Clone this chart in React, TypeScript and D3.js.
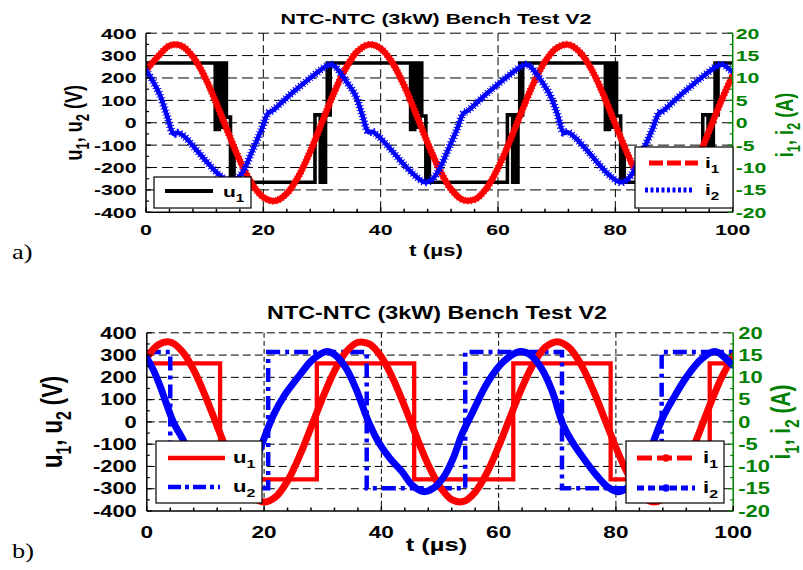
import React from 'react';
import * as d3 from 'd3';

// ---------- shared axis data ----------
const timeTicks = [0, 20, 40, 60, 80, 100];
const voltTicks = [-400, -300, -200, -100, 0, 100, 200, 300, 400];
const ampTicks = [-20, -15, -10, -5, 0, 5, 10, 15, 20];
const timeMinor = [0, 4, 8, 12, 16, 20, 24, 28, 32, 36, 40, 44, 48, 52, 56, 60, 64, 68, 72, 76, 80, 84, 88, 92, 96, 100];
const voltMinor = [-400, -350, -300, -250, -200, -150, -100, -50, 0, 50, 100, 150, 200, 250, 300, 350, 400];
const ampMinor = [-20, -17.5, -15, -12.5, -10, -7.5, -5, -2.5, 0, 2.5, 5, 7.5, 10, 12.5, 15, 17.5, 20];
const titleText = 'NTC-NTC (3kW) Bench Test V2';
const xLabelText = 't (\u00b5s)';

// ---------- panel a ----------
const u1aSwitchT = [0, 11.8, 12.0, 12.2, 12.5, 13.1, 13.4, 13.7, 14.4, 14.8, 15.0,
  28.8, 29.7, 29.95, 30.25, 30.6, 30.9, 31.15, 31.4,
  45.1, 45.3, 45.5, 45.8, 46.4, 46.7, 47.0, 47.7, 48.1, 48.3,
  61.6, 62.5, 62.75, 63.05, 63.4, 63.7, 63.95, 64.2,
  78.3, 78.5, 78.7, 79.0, 79.6, 79.9, 80.2, 80.9, 81.3, 81.5,
  94.9, 95.8, 96.05, 96.35, 96.7, 97.0, 97.25, 97.5];
const u1aSwitchV = [267, -30, 267, -30, 267, -20, 267, 25, -266, -120, -266,
  35, -266, 35, -266, 35, 267, 35, 267,
  -30, 267, -30, 267, -20, 267, 30, -266, -120, -266,
  35, -266, 35, -266, 35, 267, 35, 267,
  -30, 267, -30, 267, -20, 267, 30, -266, -120, -266,
  35, -266, 35, -266, 35, 267, 35, 267];

const i1aT = [0, 2, 4, 6, 8, 10, 12, 14, 16, 18, 20, 22, 24, 26, 28, 30, 32, 34, 36, 38, 40, 42, 44, 46, 48, 50,
  52, 54, 56, 58, 60, 62, 64, 66, 68, 70, 72, 74, 76, 78, 80, 82, 84, 86, 88, 90, 92, 94, 96, 98, 100];
const i1aA = [11.7, 14.75, 17.2, 17.2, 14.75, 10.3, 4.3, -2.2, -8.45, -13.5, -16.65, -17.45, -15.8, -11.95, -6.4, 0.1,
  6.55, 12.05, 15.9, 17.45, 16.6, 13.4, 8.3, 2.05, -4.5, -10.4, -14.85, -17.2, -17.15, -14.7, -10.1, -4.15, 2.4,
  8.65, 13.65, 16.7, 17.45, 15.7, 11.75, 6.15, -0.35, -6.75, -12.2, -16, -17.5, -16.55, -13.25, -8.1, -1.75, 4.75, 10.6];

const i2aT = [0, 1.2, 2.4, 3.6, 4.7, 5.4, 6.4, 8.5, 10.4, 12.6, 14.3, 15.5, 16.6, 18.2, 19.7, 20.8, 21.6, 23.3, 25.1, 28,
  30.8, 31.6, 32.3, 34, 35.7, 36.8, 37.9, 38.6, 39.6, 41.7, 43.6, 45.8, 47.6, 48.8, 50, 51.5, 53, 54.1, 54.9, 56.6,
  58.4, 61.3, 64.1, 64.9, 65.6, 67.3, 68.9, 70.1, 71.2, 71.9, 72.9, 75, 76.9, 79, 80.9, 82.1, 83.3, 84.8, 86.3, 87.4,
  88.2, 89.9, 91.7, 94.6, 97.4, 98.2, 100];
const i2aA = [11.7, 9.25, 6.1, 1.5, -2.5, -2.25, -2.9, -5.9, -8.8, -11.75, -13.1, -12.5, -10.75, -6, -1.5, 2.1, 2.75, 4.75, 6.85, 10,
  12.7, 13, 12.45, 9.5, 6.1, 2, -2.1, -2, -3, -5.9, -8.8, -11.75, -13.3, -12.6, -10.4, -6, -1.5, 2.1, 2.75, 4.75,
  6.85, 10, 12.7, 13, 12.45, 9.5, 6.1, 2, -2.25, -2.1, -3, -5.9, -8.8, -11.75, -13.3, -12.6, -10.4, -6, -1.5, 2.1,
  2.75, 4.75, 6.85, 10, 12.7, 13, 11.3];

// ---------- panel b ----------
const u1bSwitchT = [0, 12.5, 29.0, 45.6, 62.5, 79.1, 96.0];
const u1bSwitchV = [263, -258, 263, -258, 263, -258, 263];
const u2bSwitchT = [0, 4.0, 20.7, 37.5, 54.3, 70.8, 87.8];
const u2bSwitchV = [314, -298, 314, -298, 314, -298, 314];

const i1bT = [0, 2, 4, 6, 8, 10, 12, 14, 16, 18, 20, 22, 24, 26, 28, 30, 32, 34, 36, 38, 40, 42, 44, 46, 48, 50,
  52, 54, 56, 58, 60, 62, 64, 66, 68, 70, 72, 74, 76, 78, 80, 82, 84, 86, 88, 90, 92, 94, 96, 98, 100];
const i1bA = [14.4, 17.35, 17.9, 15.9, 11.65, 5.75, -0.95, -7.5, -13, -16.65, -18, -16.8, -13.25, -7.8, -1.25, 5.45,
  11.4, 15.75, 17.85, 17.45, 14.6, 9.65, 3.4, -3.35, -9.65, -14.55, -17.45, -17.85, -15.75, -11.45, -5.5, 1.2, 7.75,
  13.2, 16.8, 18, 16.7, 13, 7.5, 0.95, -5.75, -11.6, -15.9, -17.9, -17.35, -14.4, -9.4, -3.1, 3.7, 9.9, 14.75];

const i2bT = [0, 1, 2.2, 3.3, 4.5, 6.2, 8, 10, 12, 14, 15.5, 17, 18.5, 19.8, 21.6, 23.5, 26.1, 28.3, 30.7, 32.1,
  34, 35.8, 37.8, 39.5, 41.5, 43.5, 45.3, 47.2, 49, 50.8, 52.3, 53.7, 55.5, 58.2, 61, 63.7, 65.4, 67.3, 69.1, 71.0,
  72.8, 74.8, 76.7, 78.5, 80.2, 82, 83.7, 85.1, 86.4, 88, 89.8, 92, 94.5, 96.9, 99.8];
const i2bA = [14.3, 12, 8.3, 4.25, 0.05, -4.05, -8.5, -12, -14.4, -15.5, -15, -12.5, -9, -4.4, 1.55, 6, 10.55, 14, 15.8, 15.05,
  12, 7, 0.05, -4.5, -8.25, -11.15, -14.25, -15.65, -14.75, -12, -8, -2.9, 2, 9.05, 13.75, 15.8, 15.05, 12, 7, -0.65,
  -5, -8.75, -12, -14.5, -15.65, -14.75, -12, -8.5, -4.4, 1, 5.3, 10, 14, 15.8, 12.8];

// ---------- rendering ----------
const BLACK = '#000000';
const RED = '#ff0000';
const BLUE = '#0000ff';
const GREEN = '#008000';
const SANS = "'Liberation Sans', Arial, Helvetica, sans-serif";
const SERIF = "'Liberation Serif', 'Times New Roman', serif";

type Part = [string, boolean];

function parts(fs: number, ps: Part[]) {
  let shifted = false;
  const sh = fs * 0.3;
  return ps.map(([s, sub], i) => {
    let dy: number | undefined;
    if (sub && !shifted) { dy = sh; shifted = true; }
    else if (!sub && shifted) { dy = -sh; shifted = false; }
    return (
      <tspan key={i} fontSize={sub ? fs * 0.72 : fs} dy={dy}>{s}</tspan>
    );
  });
}

interface SeriesSpec {
  t: number[];
  v: number[];
  axis: 'L' | 'R';
  step: boolean;
  color: string;
  width: number;
  dash?: string;
  fuzz?: number;
}

interface LegendEntry {
  color: string;
  width: number;
  dash?: string;
  x0: number; x1: number; y: number;
  tx: number; ty: number;
  label: Part[];
  dot?: boolean;
}

interface LegendSpec {
  x0: number; y0: number; x1: number; y1: number;
  fs: number; sx: number;
  entries: LegendEntry[];
}

interface PanelProps {
  id: string;
  geo: { left: number; right: number; top: number; bottom: number };
  titleX: number; titleY: number; titleFs: number; titleLen: number;
  tickFs: number; tickSx: number; leftGap: number; rightGap: number;
  xTickY: number; xTickFs: number;
  xLabelX: number; xLabelY: number; xLabelFs: number; xLabelSx: number;
  yLabelX: number; yLabelFs: number; yLabelSx: number;
  rLabelX: number; rLabelY: number; rLabelFs: number;
  hDash: string; vDash: string;
  tag: string; tagY: number;
  series: SeriesSpec[];
  legends: LegendSpec[];
}

function Panel(p: PanelProps) {
  const { geo } = p;
  const x = d3.scaleLinear().domain([0, 100]).range([geo.left, geo.right]);
  const yL = d3.scaleLinear().domain([-400, 400]).range([geo.bottom, geo.top]);
  const yR = d3.scaleLinear().domain([-20, 20]).range([geo.bottom, geo.top]);
  const clipId = `clip-${p.id}`;

  const paths = p.series.map((s, k) => {
    const ys = s.axis === 'L' ? yL : yR;
    const pts: [number, number][] = s.t.map((tt, i) => [tt, s.v[i]]);
    if (s.step) pts.push([100, s.v[s.v.length - 1]]);
    const line = d3.line<[number, number]>()
      .x(d => x(d[0]))
      .y(d => ys(d[1]))
      .curve(s.step ? d3.curveStepAfter : d3.curveCatmullRom.alpha(0.5));
    const d = line(pts) || '';
    return (
      <g key={k}>
        {s.fuzz ? (
          <path d={d} fill="none" stroke={s.color} strokeWidth={s.width + s.fuzz}
            strokeDasharray="1,2.2" strokeLinejoin="round" />
        ) : null}
        <path d={d} fill="none" stroke={s.color} strokeWidth={s.width}
          strokeDasharray={s.dash} strokeLinejoin={s.step ? 'miter' : 'round'} strokeLinecap={s.step ? 'butt' : 'round'} />
      </g>
    );
  });

  const tickTr = (tx: number, ty: number) => `translate(${tx},${ty}) scale(${p.tickSx},1)`;

  return (
    <g>
      <defs>
        <clipPath id={clipId}>
          <rect x={geo.left} y={geo.top - 1} width={geo.right - geo.left} height={geo.bottom - geo.top + 2} />
        </clipPath>
      </defs>
      {/* grid */}
      {voltTicks.filter(v => v !== -400).map(v => (
        <line key={'h' + v} x1={geo.left} x2={geo.right} y1={yL(v)} y2={yL(v)} stroke="#000" strokeWidth={1} strokeDasharray={p.hDash} />
      ))}
      {timeTicks.filter(t => t !== 0 && t !== 100).map(t => (
        <line key={'v' + t} x1={x(t)} x2={x(t)} y1={geo.top} y2={geo.bottom} stroke="#000" strokeWidth={1} strokeDasharray={p.vDash} />
      ))}
      {/* traces */}
      <g clipPath={`url(#${clipId})`}>{paths}</g>
      {/* axes */}
      <line x1={geo.left} x2={geo.left} y1={geo.top} y2={geo.bottom} stroke="#000" strokeWidth={1.5} />
      <line x1={geo.left} x2={geo.right} y1={geo.bottom} y2={geo.bottom} stroke="#000" strokeWidth={1.5} />
      <line x1={geo.right} x2={geo.right} y1={geo.top} y2={geo.bottom} stroke={GREEN} strokeWidth={1.5} />
      {voltMinor.map(v => (
        <line key={'lt' + v} x1={geo.left} x2={geo.left + (v % 100 === 0 ? 5 : 3)} y1={yL(v)} y2={yL(v)} stroke="#000" strokeWidth={1.2} />
      ))}
      {ampMinor.map(a => (
        <line key={'rt' + a} x1={geo.right} x2={geo.right - (a % 5 === 0 ? 5 : 3)} y1={yR(a)} y2={yR(a)} stroke={GREEN} strokeWidth={1.2} />
      ))}
      {timeMinor.map(t => (
        <line key={'bt' + t} x1={x(t)} x2={x(t)} y1={geo.bottom} y2={geo.bottom - (t % 20 === 0 ? 5 : 3.5)} stroke="#000" strokeWidth={1.5} />
      ))}
      {/* legends */}
      {p.legends.map((lg, li) => (
        <g key={'lg' + li}>
          <rect x={lg.x0} y={lg.y0} width={lg.x1 - lg.x0} height={lg.y1 - lg.y0} fill="#fff" stroke="#000" strokeWidth={1.2} />
          {lg.entries.map((e, ei) => (
            <g key={ei}>
              <line x1={e.x0} x2={e.x1} y1={e.y} y2={e.y} stroke={e.color} strokeWidth={e.width} strokeDasharray={e.dash} />
              {e.dot ? <circle cx={(e.x0 + e.x1) / 2} cy={e.y} r={e.width * 0.75} fill={e.color} /> : null}
              <text transform={`translate(${e.tx},${e.ty}) scale(${lg.sx},1)`} fontSize={lg.fs} fontWeight="bold" fontFamily={SANS} fill="#000">
                {parts(lg.fs, e.label)}
              </text>
            </g>
          ))}
        </g>
      ))}
      {/* title */}
      <text x={p.titleX} y={p.titleY} fontSize={p.titleFs} fontWeight="bold" fontFamily={SANS} textAnchor="middle"
        textLength={p.titleLen} lengthAdjust="spacingAndGlyphs">{titleText}</text>
      {/* tick labels */}
      {voltTicks.map(v => (
        <text key={'ll' + v} transform={tickTr(geo.left - p.leftGap, yL(v) + p.tickFs * 0.36)} fontSize={p.tickFs}
          fontWeight="bold" fontFamily={SANS} textAnchor="end">{String(v)}</text>
      ))}
      {ampTicks.map(a => (
        <text key={'rl' + a} transform={tickTr(geo.right + p.rightGap, yR(a) + p.tickFs * 0.36)} fontSize={p.tickFs}
          fontWeight="bold" fontFamily={SANS} textAnchor="start" fill={GREEN}>{String(a)}</text>
      ))}
      {timeTicks.map(t => (
        <text key={'bl' + t} transform={`translate(${x(t)},${p.xTickY}) scale(${p.tickSx},1)`} fontSize={p.xTickFs}
          fontWeight="bold" fontFamily={SANS} textAnchor="middle">{String(t)}</text>
      ))}
      {/* axis labels */}
      <text transform={`translate(${p.xLabelX},${p.xLabelY}) scale(${p.xLabelSx},1)`} fontSize={p.xLabelFs}
        fontWeight="bold" fontFamily={SANS} textAnchor="middle">{xLabelText}</text>
      <text transform={`translate(${p.yLabelX},${(geo.top + geo.bottom) / 2}) rotate(-90) scale(1,${p.yLabelSx})`}
        fontSize={p.yLabelFs} fontWeight="bold" fontFamily={SANS} textAnchor="middle">
        {parts(p.yLabelFs, [['u', false], ['1', true], [', u', false], ['2', true], [' (V)', false]])}
      </text>
      <text transform={`translate(${p.rLabelX},${p.rLabelY}) rotate(-90) scale(1,${p.yLabelSx})`}
        fontSize={p.rLabelFs} fontWeight="bold" fontFamily={SANS} textAnchor="middle" fill={GREEN}>
        {parts(p.rLabelFs, [['i', false], ['1', true], [', i', false], ['2', true], [' (A)', false]])}
      </text>
      {/* panel tag */}
      <text transform={`translate(12,${p.tagY}) scale(1.2,1)`} fontSize={22} fontFamily={SERIF}>{p.tag}</text>
    </g>
  );
}

export default function App() {
  const seriesA: SeriesSpec[] = [
    { t: u1aSwitchT, v: u1aSwitchV, axis: 'L', step: true, color: BLACK, width: 3.6 },
    { t: i1aT, v: i1aA, axis: 'R', step: false, color: RED, width: 6, fuzz: 1.5 },
    { t: i2aT, v: i2aA, axis: 'R', step: false, color: BLUE, width: 4.5, fuzz: 3.5 },
  ];
  const seriesB: SeriesSpec[] = [
    { t: u1bSwitchT, v: u1bSwitchV, axis: 'L', step: true, color: RED, width: 4.3 },
    { t: u2bSwitchT, v: u2bSwitchV, axis: 'L', step: true, color: BLUE, width: 4.5, dash: '14,5,4,5' },
    { t: i1bT, v: i1bA, axis: 'R', step: false, color: RED, width: 7 },
    { t: i2bT, v: i2bA, axis: 'R', step: false, color: BLUE, width: 7 },
  ];
  const legendsA: LegendSpec[] = [
    {
      x0: 154, y0: 177, x1: 251, y1: 208, fs: 15, sx: 1.4,
      entries: [
        { color: BLACK, width: 4, x0: 165, x1: 213, y: 191, tx: 223, ty: 197, label: [['u', false], ['1', true]] },
      ],
    },
    {
      x0: 635, y0: 147, x1: 733, y1: 208, fs: 15, sx: 1.4,
      entries: [
        { color: RED, width: 5, dash: '14,4', x0: 649, x1: 698, y: 163, tx: 705, ty: 168, label: [['i', false], ['1', true]] },
        { color: BLUE, width: 5, dash: '3,2.5', x0: 645, x1: 693, y: 190, tx: 705, ty: 195, label: [['i', false], ['2', true]] },
      ],
    },
  ];
  const legendsB: LegendSpec[] = [
    {
      x0: 156, y0: 441, x1: 262, y1: 503, fs: 16, sx: 1.38,
      entries: [
        { color: RED, width: 4.5, x0: 168, x1: 225, y: 458, tx: 233, ty: 463, label: [['u', false], ['1', true]] },
        { color: BLUE, width: 4.5, dash: '13,4,4,4', x0: 168, x1: 220, y: 487, tx: 233, ty: 492, label: [['u', false], ['2', true]] },
      ],
    },
    {
      x0: 626, y0: 441, x1: 724, y1: 503, fs: 16, sx: 1.38,
      entries: [
        { color: RED, width: 5, dash: '15,5', dot: true, x0: 637, x1: 695, y: 458, tx: 703, ty: 463, label: [['i', false], ['1', true]] },
        { color: BLUE, width: 5, dash: '7,4', dot: true, x0: 637, x1: 695, y: 488, tx: 703, ty: 493, label: [['i', false], ['2', true]] },
      ],
    },
  ];

  return (
    <svg width={803} height={570} style={{ position: 'absolute', left: 0, top: 0, background: '#fff' }}>
      <rect x={0} y={0} width={803} height={570} fill="#fff" />
      <Panel id="a" geo={{ left: 146, right: 732.7, top: 33.2, bottom: 212.3 }}
        titleX={436} titleY={24} titleFs={15.5} titleLen={311}
        tickFs={15} tickSx={1.42} leftGap={9.5} rightGap={3}
        xTickY={235} xTickFs={15}
        xLabelX={436} xLabelY={256} xLabelFs={16} xLabelSx={1.4}
        yLabelX={82} yLabelFs={18} yLabelSx={1.35}
        rLabelX={793} rLabelY={125} rLabelFs={18}
        hDash="11,5" vDash="8,4" tag="a)" tagY={259}
        series={seriesA} legends={legendsA} />
      <Panel id="b" geo={{ left: 146.8, right: 733.2, top: 332.8, bottom: 511 }}
        titleX={437} titleY={319} titleFs={17.5} titleLen={340}
        tickFs={16} tickSx={1.37} leftGap={10} rightGap={5}
        xTickY={538} xTickFs={16.5}
        xLabelX={436.5} xLabelY={551} xLabelFs={18.5} xLabelSx={1.38}
        yLabelX={62} yLabelFs={22} yLabelSx={1.35}
        rLabelX={790} rLabelY={422} rLabelFs={21}
        hDash="8,4" vDash="5,3" tag="b)" tagY={558}
        series={seriesB} legends={legendsB} />
    </svg>
  );
}
